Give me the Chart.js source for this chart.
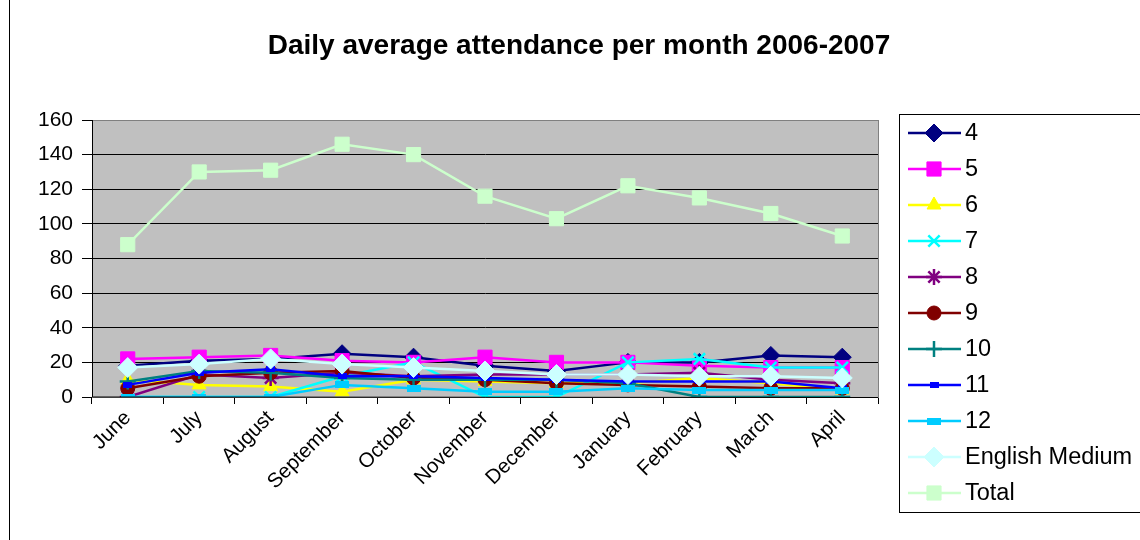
<!DOCTYPE html>
<html>
<head>
<meta charset="utf-8">
<script src="https://cdn.jsdelivr.net/npm/chart.js@4/dist/chart.umd.min.js"></script>
<style>
html,body{margin:0;padding:0;background:#fff;}
#wrap{width:1140px;height:540px;position:relative;}
</style>
</head>
<body>
<div id="wrap"><canvas id="c" width="1140" height="540"></canvas></div>
<script>
const months = ["June","July","August","September","October","November","December","January","February","March","April"];
const yTicks = [0,20,40,60,80,100,120,140,160];
const seriesNames = ["4","5","6","7","8","9","10","11","12","English Medium","Total"];

const s4  = [18,21,22,25,23,18,15,20,20,24,23];
const s5  = [22,23,24,21,20,23,20,20,18,17,17];
const s6  = [10,7,6,3,10,9,8,8,11,8,4];
const s7  = [0,0,0,12,20,0,0,20,22,17,17];
const s8  = [0,13,11,14,12,13,13,13,14,10,8];
const s9  = [5,12,14,15,11,10,8,7,6,5,5];
const s10 = [9,15,14,11,10,10,10,8,0,0,0];
const s11 = [7,14,16,12,12,11,10,9,9,9,5];
const s12 = [0,0,0,7,5,3,3,5,4,4,4];
const sEng = [17,19,22,19,17,15,13,13,12,12,11];
const sTotal = [88,130,131,146,140,116,103,122,115,106,93];

const seriesData = [s4,s5,s6,s7,s8,s9,s10,s11,s12,sEng,sTotal];
const colors = ["#000080","#FF00FF","#FFFF00","#00FFFF","#800080","#800000","#008080","#0000FF","#00CCFF","#CCFFFF","#CCFFCC"];

function rectImg(w,h,color){
  const c=document.createElement('canvas');c.width=w;c.height=h;
  const x=c.getContext('2d');x.fillStyle=color;x.fillRect(0,0,w,h);return c;
}
const styles = [
  {ps:'rectRot',r:9},
  {ps:'rect',r:10},
  {ps:'triangle',r:8},
  {ps:'crossRot',r:8},
  {ps:'star',r:8},
  {ps:'circle',r:7},
  {ps:'cross',r:8},
  {ps:rectImg(9,6,"#0000FF"),r:5},
  {ps:rectImg(14,7,"#00CCFF"),r:7},
  {ps:'rectRot',r:10},
  {ps:'rect',r:10}
];

const datasets = seriesNames.map((n,i)=>({
  label:n,
  data:seriesData[i],
  borderColor:colors[i],
  backgroundColor:colors[i],
  pointBackgroundColor:colors[i],
  pointBorderColor:colors[i],
  pointStyle:styles[i].ps,
  pointRadius:styles[i].r,
  pointBorderWidth:(styles[i].ps==='crossRot'||styles[i].ps==='star'||styles[i].ps==='cross')?2.5:1,
  borderWidth:2.5,
  tension:0,
  order:seriesNames.length-i
}));

const F = "'Liberation Sans', Arial, sans-serif";

const framePlugin = {
  id:'frame',
  beforeDraw(chart){
    const {ctx,chartArea:a}=chart;
    ctx.save();
    ctx.fillStyle='#fff';ctx.fillRect(0,0,chart.width,chart.height);
    ctx.fillStyle='#C0C0C0';
    ctx.fillRect(a.left,a.top,a.right-a.left,a.bottom-a.top);
    ctx.restore();
  },
  afterDraw(chart){
    const {ctx,chartArea:a}=chart;
    ctx.save();
    ctx.strokeStyle='#808080';ctx.lineWidth=1;
    ctx.strokeRect(a.left+0.5,a.top+0.5,a.right-a.left,a.bottom-a.top);
    ctx.strokeStyle='#000';
    ctx.beginPath();ctx.moveTo(a.left+0.5,a.top);ctx.lineTo(a.left+0.5,a.bottom);ctx.lineTo(a.right,a.bottom+0.5);ctx.stroke();
    ctx.beginPath();ctx.moveTo(9.5,0);ctx.lineTo(9.5,540);ctx.stroke();
    ctx.fillStyle='#000';
    ctx.font='bold 28px '+F;
    ctx.textAlign='center';ctx.textBaseline='middle';
    ctx.fillText('Daily average attendance per month 2006-2007',579,46);
    ctx.strokeStyle='#000';ctx.lineWidth=1;
    ctx.strokeRect(899.5,114.5,260,398);
    ctx.font='23.5px '+F;ctx.textAlign='left';ctx.textBaseline='middle';
    chart.data.datasets.forEach((ds,i)=>{
      const y=133+i*36;
      ctx.strokeStyle=ds.borderColor;ctx.lineWidth=2.5;
      ctx.beginPath();ctx.moveTo(908,y);ctx.lineTo(961,y);ctx.stroke();
      ctx.fillStyle=ds.pointBackgroundColor;ctx.strokeStyle=ds.pointBorderColor;
      ctx.lineWidth=ds.pointBorderWidth;
      Chart.helpers.drawPoint(ctx,{pointStyle:ds.pointStyle,radius:ds.pointRadius,rotation:0,borderWidth:ds.pointBorderWidth},934,y);
      ctx.fillStyle='#000';
      ctx.fillText(ds.label,965,y+1);
    });
    ctx.restore();
  }
};

new Chart(document.getElementById('c'),{
  type:'line',
  data:{labels:months,datasets:datasets},
  plugins:[framePlugin],
  options:{
    responsive:false,
    animation:false,
    layout:{padding:{left:0,top:120,right:262,bottom:0}},
    plugins:{legend:{display:false},title:{display:false},tooltip:{enabled:false}},
    scales:{
      x:{
        offset:true,
        grid:{display:true,offset:true,drawOnChartArea:false,drawTicks:true,tickLength:7,color:'#000'},
        border:{display:true,color:'#000'},
        ticks:{color:'#000',font:{family:F,size:20.5},maxRotation:45,minRotation:45,autoSkip:false,padding:2},
        afterFit(s){s.height=143;}
      },
      y:{
        min:0,max:160,
        afterBuildTicks(s){s.ticks=yTicks.map(v=>({value:v}));},
        grid:{color:'#000',lineWidth:1,tickLength:10,drawTicks:true},
        border:{display:true,color:'#000'},
        ticks:{color:'#000',font:{family:F,size:21},padding:9},
        afterFit(s){s.width=92;}
      }
    }
  }
});
</script>
</body>
</html>
